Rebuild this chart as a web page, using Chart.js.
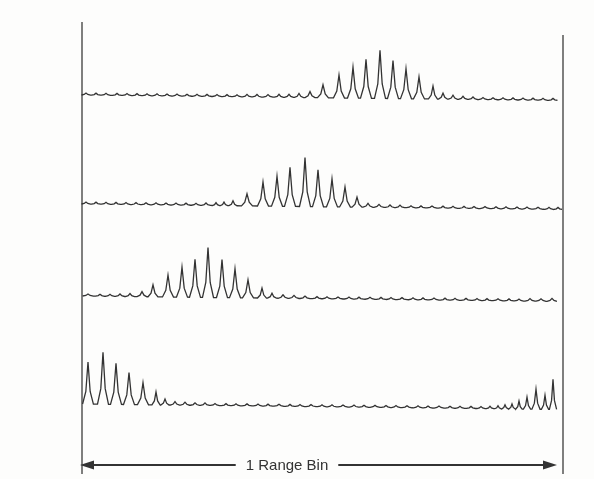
<!DOCTYPE html>
<html lang="en">
<head>
    <meta charset="UTF-8">
    <title>1 Range Bin</title>
    <script src="https://cdn.jsdelivr.net/npm/chart.js"></script>
    <style>
        html, body { margin: 0; padding: 0; background: #fdfdfc; }
        #wrap { width: 594px; height: 479px; }
    </style>
</head>
<body>
<div id="wrap"><canvas id="chart" width="594" height="479"></canvas></div>
<script>
    // pulse positions along the range bin (range samples) and their amplitudes
    const trace1Pos = [0.4, 1.4, 2.4, 3.5, 4.5, 5.5, 6.5, 7.5, 8.5, 9.5, 10.5, 11.5, 12.5, 13.5, 14.5, 15.5, 16.5, 17.5, 18.6, 19.7, 20.7, 21.7, 22.8,
        24.1, 25.7, 27.1, 28.4, 29.8, 31.1, 32.4, 33.7, 35.1, 36.1,
        37.1, 38.1, 39.1, 40.1, 41.1, 42.1, 43.1, 44.1, 45.1, 46.1, 47.1];
    const trace1Amp = [2, 2, 2, 2, 2, 2, 2, 2, 2, 2, 2, 2, 2, 2, 2, 2, 2.5, 2.5, 2.5, 3, 3, 4, 6,
        13, 23, 31, 39, 48, 38, 30, 22, 13, 6,
        4, 3, 2.5, 2, 2, 2, 2, 2, 2, 2, 2];

    const trace2Pos = [0.4, 1.4, 2.4, 3.4, 4.4, 5.4, 6.4, 7.4, 8.4, 9.4, 10.4, 11.4, 12.4, 13.4, 14.2,
        15.1, 16.5, 18.1, 19.5, 20.8, 22.3, 23.6, 25.0, 26.3, 27.5,
        28.6, 29.7, 30.8, 31.8, 32.9, 33.9, 35.0, 36.1, 37.1, 38.2, 39.2, 40.3, 41.4, 42.4, 43.5, 44.5, 45.6, 46.7, 47.6];
    const trace2Amp = [2, 2, 2, 2, 2, 2, 2, 2, 2, 2, 2, 2, 2.5, 3, 3.5,
        5, 12, 24, 30, 39, 49, 37, 28, 20, 10,
        4, 3, 2.5, 2.5, 2, 2, 2, 2, 2, 2, 2, 2, 2, 2, 2, 2, 2, 2, 2];

    const trace3Pos = [0.6, 1.8, 2.8, 3.8, 4.8, 6.0,
        7.1, 8.6, 10.0, 11.3, 12.6, 14.0, 15.3, 16.6, 18.0, 19.0,
        20.1, 21.2, 22.3, 23.5, 24.5, 25.6, 26.7, 27.7, 28.8, 29.9, 30.9, 32.0, 33.1, 34.1, 35.2, 36.3, 37.3, 38.4, 39.5, 40.5,
        41.6, 42.7, 43.7, 44.8, 45.9, 47.0];
    const trace3Amp = [2, 2, 2, 2.5, 3, 5,
        12, 22, 30, 38, 50, 38, 29, 18, 10, 5,
        3.5, 3, 2.5, 2, 2, 2, 2, 2, 2, 2, 2, 2, 2, 2, 2, 2, 2, 2, 2, 2,
        2, 2, 2, 2.5, 2.5, 3];

    const trace4Pos = [0.6, 2.1, 3.4, 4.7, 6.1, 7.4, 8.3, 9.3, 10.3, 11.3, 12.3,
        13.3, 14.4, 15.4, 16.5, 17.6, 18.6, 19.7, 20.8, 21.8, 22.9, 24.0, 25.0, 26.1, 27.2, 28.2, 29.3, 30.4, 31.4, 32.5, 33.6,
        34.6, 35.7, 36.8, 37.8, 38.9, 39.9,
        40.8, 41.6, 42.3, 43.0, 43.7, 44.5, 45.4, 46.3, 47.1];
    const trace4Amp = [42, 52, 41, 32, 22, 13, 6, 3.5, 3, 2.5, 2.5,
        2, 2, 2, 2, 2, 2, 2, 2, 2, 2, 2, 2, 2, 2, 2, 2, 2, 2, 2, 2,
        2, 2, 2, 2, 2, 2,
        2.5, 3, 4, 5, 8, 12, 20, 14, 30];

    const binLabel = '1 Range Bin';
    const binEnd = 48.1;

    // layout: where each trace's baseline sits (left end) and the scan skew across the bin
    const baseLevels = [377, 268, 176, 68];
    const skew = -5.5;
    const ink = '#333';

    function buildTrace(pos, amp, base) {
        const pts = [];
        for (let i = 0; i < pos.length; i++) {
            const prev = i > 0 ? pos[i] - pos[i - 1] : 1.2;
            const next = i < pos.length - 1 ? pos[i + 1] - pos[i] : 1.2;
            const hw = Math.min(0.55, 0.45 * Math.min(prev, next));
            const b = x => base + skew * x / binEnd;
            const p = pos[i], h = amp[i];
            pts.push({ x: p - hw, y: b(p - hw) });
            pts.push({ x: p - hw * 0.4, y: b(p) + h * 0.3 });
            pts.push({ x: p, y: b(p) + h });
            pts.push({ x: p + hw * 0.4, y: b(p) + h * 0.3 });
            pts.push({ x: p + hw, y: b(p + hw) });
        }
        return pts;
    }

    const traces = [
        [trace1Pos, trace1Amp],
        [trace2Pos, trace2Amp],
        [trace3Pos, trace3Amp],
        [trace4Pos, trace4Amp]
    ];

    const datasets = traces.map((t, i) => ({
        data: buildTrace(t[0], t[1], baseLevels[i]),
        borderColor: ink,
        borderWidth: 1.3,
        pointRadius: 0,
        tension: 0,
        fill: false
    }));

    // the two bin boundaries
    datasets.push({
        data: [{ x: 0, y: -2 }, { x: 0, y: 450 }],
        borderColor: '#555', borderWidth: 1.5, pointRadius: 0
    });
    datasets.push({
        data: [{ x: binEnd, y: -2 }, { x: binEnd, y: 437 }],
        borderColor: '#555', borderWidth: 1.5, pointRadius: 0
    });

    const arrowPlugin = {
        id: 'binArrow',
        afterDraw(chart) {
            const ctx = chart.ctx;
            const xs = chart.scales.x, ys = chart.scales.y;
            const x0 = xs.getPixelForValue(-0.2);
            const x1 = xs.getPixelForValue(47.5);
            const y = ys.getPixelForValue(7);
            const cx = xs.getPixelForValue(20.5);
            ctx.save();
            ctx.font = '15px "Liberation Sans", Arial, sans-serif';
            ctx.fillStyle = '#333';
            ctx.textAlign = 'center';
            ctx.textBaseline = 'middle';
            ctx.fillText(binLabel, cx, y + 1);
            const tw = ctx.measureText(binLabel).width;
            ctx.strokeStyle = '#333';
            ctx.lineWidth = 2;
            ctx.beginPath();
            ctx.moveTo(x0 + 8, y);
            ctx.lineTo(cx - tw / 2 - 10, y);
            ctx.moveTo(cx + tw / 2 + 10, y);
            ctx.lineTo(x1 - 8, y);
            ctx.stroke();
            ctx.beginPath();
            ctx.moveTo(x0, y);
            ctx.lineTo(x0 + 14, y - 4.5);
            ctx.lineTo(x0 + 14, y + 4.5);
            ctx.closePath();
            ctx.moveTo(x1, y);
            ctx.lineTo(x1 - 14, y - 4.5);
            ctx.lineTo(x1 - 14, y + 4.5);
            ctx.closePath();
            ctx.fill();
            ctx.restore();
        }
    };

    new Chart(document.getElementById('chart'), {
        type: 'line',
        data: { datasets: datasets },
        options: {
            responsive: false,
            animation: false,
            layout: { padding: { left: 82, right: 31, top: 22, bottom: 7 } },
            plugins: { legend: { display: false }, tooltip: { enabled: false } },
            datasets: { line: { clip: false } },
            scales: {
                x: { type: 'linear', min: 0, max: binEnd, display: false },
                y: { min: 0, max: 450, display: false }
            }
        },
        plugins: [arrowPlugin]
    });
</script>
</body>
</html>
